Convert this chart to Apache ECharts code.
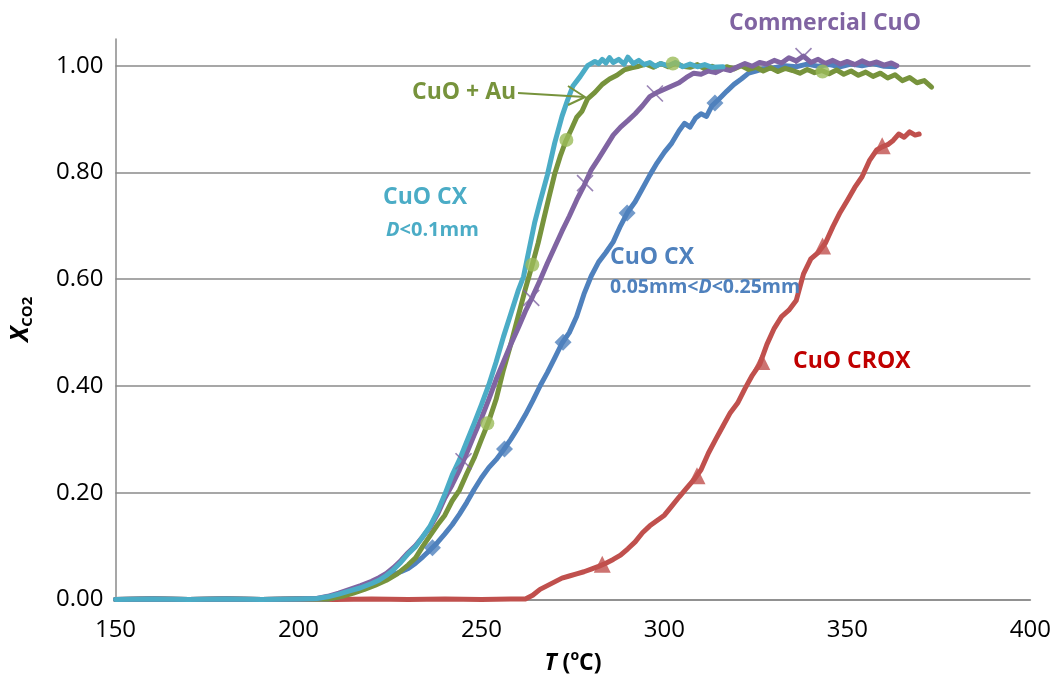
<!DOCTYPE html>
<html>
<head>
<meta charset="utf-8">
<script src="https://cdn.jsdelivr.net/npm/echarts@6/dist/echarts.min.js"></script>
<style>
  html, body { margin: 0; padding: 0; background: #ffffff; }
  #chart { width: 1054px; height: 680px; }
</style>
</head>
<body>
<div id="chart"></div>
<script>
// Axis ticks
const xTicks = [150, 200, 250, 300, 350, 400];
const yTicks = [0, 0.2, 0.4, 0.6, 0.8, 1.0];

// CO2 conversion vs temperature, [T (°C), X_CO2]
const cuoCxFine = [
  [150,0],[160,0.001],[170,0],[180,0.001],[190,0],[200,0.001],[205,0.002],[208,0.005],
  [211,0.010],[214,0.016],[217,0.022],[220,0.030],[222,0.036],[224,0.045],[226,0.056],
  [228,0.070],[230,0.086],[232,0.099],[234,0.118],[236,0.138],[238,0.165],[240,0.197],
  [242,0.233],[244,0.262],[246,0.296],[248,0.330],[250,0.365],[252,0.402],[254,0.445],
  [256,0.492],[258,0.535],[260,0.578],[261.5,0.605],[263,0.655],[264.5,0.705],[266,0.745],
  [268,0.795],[270,0.855],[272,0.905],[273.5,0.935],[275,0.962],[277,0.980],[279,1.000],
  [281,1.008],[282,1.004],[283,1.012],[284,1.005],[285,1.015],[286,1.006],[287.5,1.012],
  [289,1.003],[290,1.016],[291.5,1.004],[293,1.010],[294.5,1.002],[296,1.006],[297.5,0.999],
  [299,1.004],[301,1.000],[303,1.006],[305,0.998],[307,1.003],[309,0.998],[311,1.002],
  [313,0.997],[316,0.998]
];

const cuoAu = [
  [150,0],[160,0.001],[170,0],[180,0.001],[190,0],[200,0.001],[208,0.001],[212,0.006],
  [215,0.012],[218,0.019],[221,0.027],[224,0.036],[227,0.048],[230,0.065],[232,0.078],
  [234,0.100],[236,0.120],[238,0.140],[240,0.158],[242,0.185],[244,0.205],[246,0.236],
  [248,0.265],[250,0.300],[252,0.334],[254,0.375],[256,0.430],[258,0.478],[260,0.530],
  [262,0.582],[264,0.630],[265.5,0.668],[267,0.712],[268.5,0.755],[270,0.797],[271.5,0.830],
  [273,0.858],[274.5,0.880],[276,0.903],[277.5,0.915],[279,0.938],[281,0.950],[283,0.965],
  [285,0.975],[287,0.982],[289,0.992],[291,0.996],[293,0.999],[295,1.003],[297,0.997],
  [299,1.004],[301,0.998],[303,1.005],[305,0.999],[307,0.997],[309,1.002],[311,0.994],
  [313,0.999],[315,0.992],[317,0.998],[319,0.994],[321,1.000],[323,0.993],[325,0.997],
  [327,0.990],[329,0.996],[331,0.989],[333,0.995],[335,0.991],[337,0.986],[339,0.993],
  [341,0.987],[343,0.991],[345,0.985],[347,0.992],[349,0.984],[351,0.990],[353,0.982],
  [355,0.988],[357,0.980],[359,0.986],[361,0.977],[363,0.983],[365,0.972],[367,0.978],
  [369,0.968],[371,0.972],[373,0.960]
];

const commercialCuo = [
  [150,0],[160,0.001],[170,0],[180,0.001],[190,0],[200,0.001],[205,0.002],[208,0.006],
  [211,0.012],[214,0.019],[217,0.026],[220,0.034],[222,0.041],[224,0.049],[226,0.060],
  [228,0.073],[230,0.088],[232,0.101],[234,0.118],[236,0.136],[238,0.160],[240,0.190],
  [242,0.215],[244,0.243],[246,0.275],[248,0.308],[250,0.340],[252,0.375],[254,0.412],
  [256,0.445],[258,0.478],[260,0.508],[262,0.540],[264,0.568],[266,0.598],[268,0.630],
  [270,0.660],[272,0.690],[274,0.718],[276,0.748],[278,0.775],[280,0.805],[282,0.826],
  [284,0.848],[286,0.870],[288,0.885],[290,0.897],[292,0.910],[294,0.925],[296,0.942],
  [298,0.950],[300,0.956],[302,0.962],[304,0.968],[306,0.978],[308,0.986],[310,0.984],
  [312,0.990],[314,0.987],[316,0.994],[318,0.991],[320,0.998],[322,1.004],[324,0.999],
  [326,1.006],[328,1.003],[330,1.010],[332,1.005],[334,1.015],[336,1.009],[338,1.018],
  [340,1.006],[342,1.012],[344,1.004],[346,1.010],[348,1.003],[350,1.008],[352,1.002],
  [354,1.009],[356,1.003],[358,1.007],[360,1.001],[362,1.005],[363.5,1.000]
];

const cuoCxCoarse = [
  [150,0],[160,0.001],[170,0],[180,0.001],[190,0],[200,0.001],[208,0.001],[211,0.005],
  [214,0.013],[217,0.020],[220,0.028],[222,0.036],[224,0.041],[226,0.047],[228,0.052],
  [230,0.058],[232,0.068],[234,0.080],[236,0.093],[238,0.107],[240,0.123],[242,0.140],
  [244,0.160],[246,0.182],[248,0.206],[250,0.228],[252,0.247],[254,0.262],[256,0.280],
  [258,0.300],[260,0.322],[262,0.346],[264,0.372],[266,0.400],[268,0.425],[270,0.452],
  [272,0.480],[274,0.500],[276,0.530],[278,0.572],[280,0.606],[282,0.632],[284,0.650],
  [286,0.670],[288,0.700],[290,0.726],[292,0.745],[294,0.770],[296,0.795],[298,0.818],
  [300,0.838],[302,0.855],[304,0.878],[305.5,0.892],[307,0.885],[308.5,0.902],[310,0.910],
  [311.5,0.905],[313,0.925],[315,0.938],[317,0.952],[319,0.965],[321,0.975],[323,0.986],
  [325,0.990],[327,0.994],[330,0.996],[333,1.000],[336,0.998],[339,1.003],[342,0.999],
  [345,1.002],[348,0.998],[351,1.003],[354,1.000],[357,1.004],[360,0.999],[363,0.998]
];

const cuoCrox = [
  [150,0],[160,0.001],[170,0],[180,0.001],[190,0],[200,0.001],[210,0],[220,0.001],
  [230,0],[240,0.001],[250,0],[258,0.001],[262,0.001],[264,0.008],[266,0.019],[268,0.026],
  [270,0.033],[272,0.040],[274,0.044],[276,0.048],[278,0.052],[280,0.057],[282,0.062],
  [284,0.068],[286,0.075],[288,0.083],[290,0.095],[292,0.108],[294,0.125],[296,0.138],
  [298,0.148],[300,0.158],[302,0.175],[304,0.192],[306,0.208],[308,0.224],[310,0.243],
  [312,0.274],[314,0.300],[316,0.325],[318,0.350],[320,0.368],[322,0.395],[324,0.420],
  [326,0.440],[328,0.478],[330,0.508],[332,0.530],[334,0.542],[336,0.560],[338,0.610],
  [340,0.638],[342,0.650],[344,0.668],[346,0.698],[348,0.725],[350,0.748],[352,0.772],
  [354,0.792],[356,0.822],[358,0.842],[359.5,0.848],[361,0.852],[362.5,0.860],[364,0.872],
  [365.5,0.866],[367,0.876],[368.5,0.870],[369.6,0.872]
];

// Marker points shown along each curve
const cuoAuMarks = [[251.6,0.330],[263.9,0.627],[273.2,0.861],[302.3,1.004],[343.2,0.989]];
const commercialMarks = [[245.1,0.259],[263.6,0.565],[278.3,0.780],[297.4,0.948],[338.0,1.018]];
const cuoCxCoarseMarks = [[236.6,0.097],[256.3,0.282],[272.3,0.482],[289.8,0.724],[313.8,0.930]];
const cuoCroxMarks = [[283.0,0.066],[308.9,0.232],[326.6,0.446],[343.2,0.662],[359.5,0.850]];

const FONT = '"Open Sans", "Noto Sans", sans-serif';
const GRID_GREY = '#8a8a8a';

const C_CYAN = '#4BACC6';
const C_GREEN = '#77933C';
const C_GREEN_MARK = '#9BBB59';
const C_PURPLE = '#8064A2';
const C_BLUE = '#4F81BD';
const C_RED = '#C0504D';
const C_RED_TEXT = '#C00000';

function curve(name, data, color, z) {
  return {
    name, type: 'line', data, z,
    showSymbol: false, symbol: 'none', smooth: false,
    lineStyle: { color, width: 5, cap: 'round', join: 'round' },
    clip: false, silent: true, animation: false
  };
}
function marks(name, data, symbol, size, itemStyle, z) {
  return {
    name, type: 'scatter', data, z, symbol, symbolSize: size,
    itemStyle, clip: false, silent: true, animation: false
  };
}

const chart = echarts.init(document.getElementById('chart'), null, { renderer: 'canvas' });

chart.setOption({
  animation: false,
  backgroundColor: '#ffffff',
  textStyle: { fontFamily: FONT },
  grid: { left: 114, right: 22, top: 39, bottom: 80, containLabel: false },
  xAxis: {
    type: 'value', min: xTicks[0], max: xTicks[xTicks.length - 1], interval: 50,
    axisLine: { show: true, lineStyle: { color: GRID_GREY, width: 1.5 } },
    axisTick: { show: false },
    splitLine: { show: false },
    axisLabel: { color: '#000', fontFamily: FONT, fontSize: 24, margin: 19 },
    name: '{it|T\u00a0}{b|(}{sup|o}{b|C)}',
    nameLocation: 'middle', nameGap: 50,
    nameTextStyle: {
      rich: {
        it: { fontFamily: FONT, fontSize: 23, fontWeight: 'bold', fontStyle: 'italic', color: '#000', lineHeight: 28 },
        b: { fontFamily: FONT, fontSize: 23, fontWeight: 'bold', color: '#000', lineHeight: 28 },
        sup: { fontFamily: FONT, fontSize: 14, fontWeight: 'bold', color: '#000', verticalAlign: 'top', lineHeight: 28 }
      }
    }
  },
  yAxis: {
    type: 'value', min: 0, max: 1.05, interval: 0.2,
    axisLine: { show: true, lineStyle: { color: GRID_GREY, width: 1.5 } },
    axisTick: { show: false },
    splitLine: { show: true, showMaxLine: false, lineStyle: { color: GRID_GREY, width: 1.5 } },
    axisLabel: {
      color: '#000', fontFamily: FONT, fontSize: 24, margin: 12, showMaxLabel: false,
      formatter: v => (yTicks.some(t => Math.abs(t - v) < 1e-9) ? v.toFixed(2) : '')
    },
    name: '{it|X}{sub|CO2}',
    nameLocation: 'middle', nameGap: 80,
    nameTextStyle: {
      rich: {
        it: { fontFamily: FONT, fontSize: 25, fontWeight: 'bold', fontStyle: 'italic', color: '#000', lineHeight: 30 },
        sub: { fontFamily: FONT, fontSize: 15, fontWeight: 'bold', color: '#000', verticalAlign: 'bottom', lineHeight: 30 }
      }
    }
  },
  series: [
    curve('CuO CROX', cuoCrox, C_RED, 2),
    curve('CuO CX 0.05mm<D<0.25mm', cuoCxCoarse, C_BLUE, 3),
    curve('CuO + Au', cuoAu, C_GREEN, 4),
    curve('Commercial CuO', commercialCuo, C_PURPLE, 5),
    curve('CuO CX D<0.1mm', cuoCxFine, C_CYAN, 6),
    marks('CuO CROX markers', cuoCroxMarks, 'triangle', 17, { color: C_RED }, 10),
    marks('CuO CX coarse markers', cuoCxCoarseMarks, 'path://M5,0L10,5L5,10L0,5Z', 17, { color: C_BLUE }, 10),
    marks('CuO + Au markers', cuoAuMarks, 'circle', 14, { color: C_GREEN_MARK }, 10),
    marks('Commercial CuO markers', commercialMarks, 'path://M0,0L10,10M10,0L0,10', 16,
      { color: 'rgba(0,0,0,0)', borderColor: C_PURPLE, borderWidth: 1.6 }, 10)
  ],
  graphic: [
    { type: 'text', z: 100, style: { x: 825, y: 23, text: 'Commercial CuO', fill: C_PURPLE,
      font: 'bold 23px ' + FONT, textAlign: 'center', textVerticalAlign: 'middle' } },
    { type: 'text', z: 100, style: { x: 412, y: 92, text: 'CuO + Au', fill: C_GREEN,
      font: 'bold 23px ' + FONT, textAlign: 'left', textVerticalAlign: 'middle' } },
    { type: 'line', z: 100, shape: { x1: 518, y1: 93, x2: 585, y2: 97 },
      style: { stroke: C_GREEN, lineWidth: 2 } },
    { type: 'polyline', z: 100, shape: { points: [[568, 86], [585, 97], [568, 105]] },
      style: { stroke: C_GREEN, lineWidth: 2, fill: null } },
    { type: 'text', z: 100, style: { x: 383, y: 197, text: 'CuO CX', fill: C_CYAN,
      font: 'bold 23px ' + FONT, textAlign: 'left', textVerticalAlign: 'middle' } },
    { type: 'text', z: 100, style: { x: 386, y: 230,
      text: '{i|D}{n|<0.1mm}', textAlign: 'left', textVerticalAlign: 'middle',
      rich: {
        i: { fill: C_CYAN, font: 'italic bold 20px ' + FONT },
        n: { fill: C_CYAN, font: 'bold 20px ' + FONT }
      } } },
    { type: 'text', z: 100, style: { x: 610, y: 257, text: 'CuO CX', fill: C_BLUE,
      font: 'bold 23px ' + FONT, textAlign: 'left', textVerticalAlign: 'middle' } },
    { type: 'text', z: 100, style: { x: 610, y: 287,
      text: '{n|0.05mm<}{i|D}{n|<0.25mm}', textAlign: 'left', textVerticalAlign: 'middle',
      rich: {
        i: { fill: C_BLUE, font: 'italic bold 19.5px ' + FONT },
        n: { fill: C_BLUE, font: 'bold 19.5px ' + FONT }
      } } },
    { type: 'text', z: 100, style: { x: 793, y: 361, text: 'CuO CROX', fill: C_RED_TEXT,
      font: 'bold 23px ' + FONT, textAlign: 'left', textVerticalAlign: 'middle' } }
  ]
});
</script>
</body>
</html>
